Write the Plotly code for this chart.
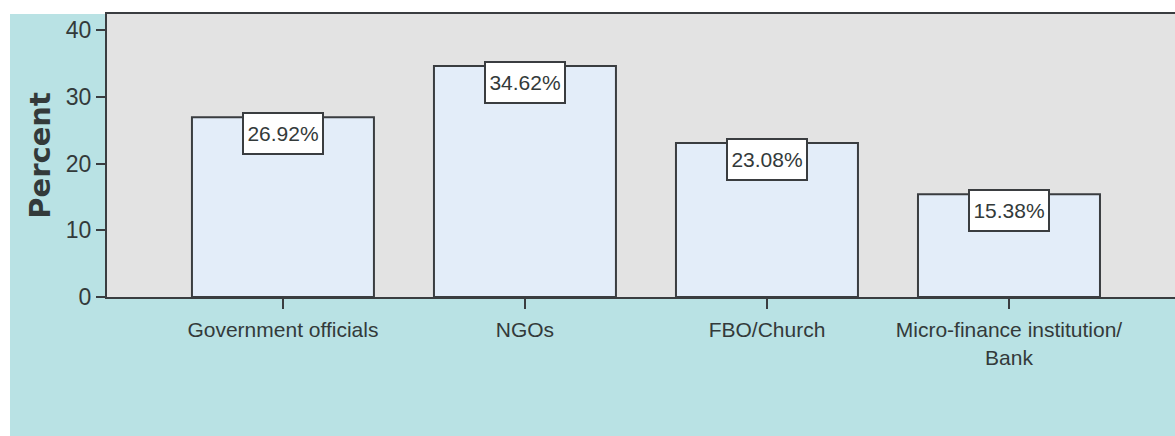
import plotly.graph_objects as go

categories = ["Government officials", "NGOs", "FBO/Church", "Micro-finance institution/<br>Bank"]
values = [26.92, 34.62, 23.08, 15.38]
labels = ["26.92%", "34.62%", "23.08%", "15.38%"]
yticks = [0, 10, 20, 30, 40]

W, H = 1175, 436
L, R, T, B = 107, 0, 14, 139
FONT = "Liberation Sans Narrow, Arial Narrow, Arial"
TXT = "#333a3a"

fig = go.Figure()
fig.add_trace(go.Bar(
    x=list(range(len(categories))), y=values,
    width=0.752,
    marker=dict(color="#e3edf9", line=dict(color="#3a3d40", width=2)),
    hoverinfo="skip",
))

for i, (v, lab) in enumerate(zip(values, labels)):
    fig.add_annotation(
        x=i, y=v, xref="x", yref="y", text=lab, showarrow=False,
        yanchor="top", yshift=5,
        font=dict(family=FONT, size=21, color=TXT),
        bgcolor="white", bordercolor="#3a3d40", borderwidth=2,
        borderpad=2, width=74, height=35,
    )

# white strips around teal area
fig.add_shape(type="rect", xref="paper", yref="paper",
              x0=-L / 1068 - 0.01, x1=(10 - L) / 1068, y0=-B / 283 - 0.01, y1=1 + T / 283 + 0.01,
              fillcolor="white", line_width=0, layer="below")
fig.add_shape(type="rect", xref="paper", yref="paper",
              x0=-L / 1068 - 0.01, x1=1.01, y0=1, y1=1 + T / 283 + 0.01,
              fillcolor="white", line_width=0, layer="below")

fig.update_layout(
    width=W, height=H,
    margin=dict(l=L, r=R, t=T, b=B),
    paper_bgcolor="#b9e2e4",
    plot_bgcolor="#e3e3e3",
    showlegend=False,
    bargap=0.248,
    font=dict(family=FONT, color=TXT),
)
fig.update_xaxes(
    range=[-0.727, 3.686],
    tickmode="array", tickvals=list(range(len(categories))), ticktext=categories,
    ticks="outside", ticklen=10, tickwidth=2, tickcolor="#3a3d40",
    showline=True, linecolor="#3a3d40", linewidth=2, mirror=True,
    showgrid=False, zeroline=False,
    ticklabelstandoff=3,
    tickfont=dict(family=FONT, size=21, color=TXT),
)
fig.update_yaxes(
    range=[0, 42.4],
    tickmode="array", tickvals=yticks,
    ticks="outside", ticklen=9, tickwidth=2, tickcolor="#3a3d40",
    showline=True, linecolor="#3a3d40", linewidth=2,
    showgrid=False, zeroline=False,
    tickfont=dict(family=FONT, size=23, color=TXT),
    title=dict(text="<b>Percent</b>", font=dict(family="DejaVu Sans", size=29, color=TXT), standoff=7),
)

fig.write_html("out.html")
